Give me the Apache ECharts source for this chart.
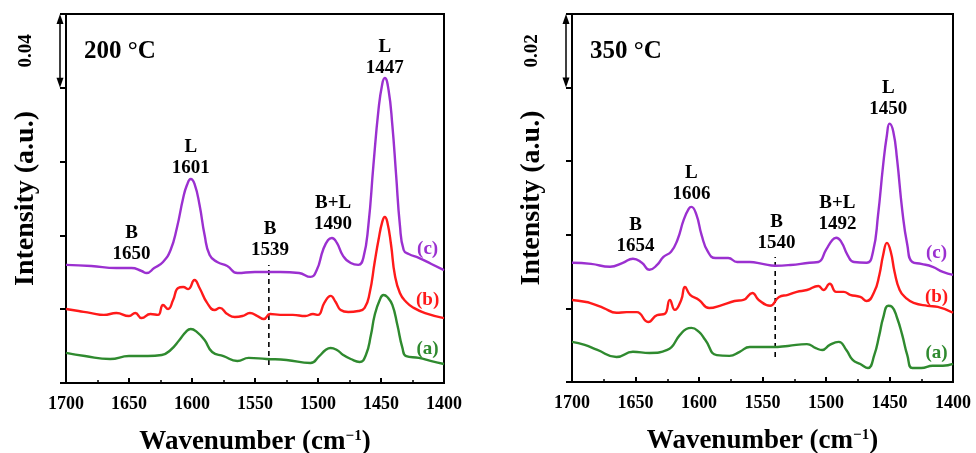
<!DOCTYPE html>
<html>
<head>
<meta charset="utf-8">
<script src="https://cdn.jsdelivr.net/npm/echarts@6/dist/echarts.min.js"></script>
<style>
  html, body { margin: 0; padding: 0; background: #fff; }
  #chart { width: 976px; height: 453px; }
</style>
</head>
<body>
<div id="chart"></div>
<script>
// ---- Pyridine-IR spectra, desorption at 200 °C and 350 °C ----
// wavenumber (cm-1), absorbance

// 200 °C panel
const spec200c = [[1700,0.0640],[1680,0.0634],[1660,0.0623],[1648,0.0623],[1640,0.0607],[1636,0.0596],[1630,0.0623],[1623,0.0656],[1617,0.0721],[1612,0.0840],[1607,0.1003],[1604,0.1073],[1601,0.1106],[1598,0.1079],[1594,0.0965],[1590,0.0802],[1586,0.0694],[1580,0.0656],[1572,0.0634],[1564,0.0596],[1550,0.0602],[1530,0.0602],[1515,0.0596],[1506,0.0575],[1501,0.0612],[1496,0.0721],[1492,0.0775],[1489,0.0786],[1485,0.0759],[1480,0.0688],[1474,0.0650],[1468,0.0640],[1464,0.0678],[1460,0.0856],[1456,0.1182],[1452,0.1480],[1449,0.1621],[1447,0.1653],[1444,0.1588],[1441,0.1398],[1438,0.1127],[1435,0.0856],[1432,0.0721],[1428,0.0699],[1420,0.0678],[1410,0.0645],[1400,0.0612]];
const spec200b = [[1700,0.0401],[1690,0.0390],[1680,0.0379],[1670,0.0369],[1660,0.0379],[1650,0.0363],[1645,0.0379],[1640,0.0352],[1633,0.0374],[1627,0.0369],[1623,0.0423],[1619,0.0401],[1615,0.0450],[1611,0.0515],[1607,0.0520],[1603,0.0509],[1598,0.0558],[1594,0.0515],[1588,0.0434],[1582,0.0396],[1578,0.0407],[1572,0.0374],[1566,0.0358],[1560,0.0363],[1554,0.0379],[1548,0.0363],[1543,0.0347],[1538,0.0374],[1530,0.0369],[1520,0.0369],[1510,0.0363],[1504,0.0374],[1500,0.0369],[1495,0.0434],[1490,0.0472],[1486,0.0439],[1482,0.0396],[1476,0.0385],[1468,0.0390],[1463,0.0407],[1459,0.0488],[1455,0.0656],[1452,0.0775],[1449,0.0873],[1447,0.0900],[1445,0.0873],[1442,0.0748],[1439,0.0585],[1435,0.0488],[1430,0.0439],[1424,0.0407],[1415,0.0379],[1400,0.0352]];
const spec200a = [[1700,0.0163],[1685,0.0146],[1665,0.0130],[1650,0.0146],[1635,0.0146],[1624,0.0152],[1617,0.0179],[1610,0.0233],[1605,0.0276],[1601,0.0293],[1596,0.0276],[1590,0.0233],[1584,0.0168],[1575,0.0146],[1564,0.0119],[1555,0.0136],[1541,0.0130],[1525,0.0125],[1506,0.0108],[1499,0.0146],[1494,0.0179],[1490,0.0190],[1485,0.0179],[1480,0.0152],[1474,0.0130],[1467,0.0114],[1462,0.0152],[1458,0.0260],[1455,0.0369],[1451,0.0450],[1448,0.0477],[1445,0.0466],[1441,0.0423],[1437,0.0314],[1433,0.0190],[1430,0.0146],[1420,0.0136],[1410,0.0119],[1400,0.0103]];

// 350 °C panel
const spec350c = [[1700,0.0324],[1685,0.0321],[1670,0.0313],[1660,0.0324],[1652,0.0335],[1645,0.0324],[1639,0.0305],[1633,0.0318],[1628,0.0340],[1622,0.0354],[1617,0.0386],[1612,0.0441],[1608,0.0471],[1606,0.0476],[1602,0.0454],[1598,0.0400],[1593,0.0354],[1587,0.0337],[1577,0.0337],[1570,0.0326],[1560,0.0326],[1550,0.0321],[1540,0.0316],[1528,0.0318],[1513,0.0324],[1506,0.0326],[1500,0.0359],[1495,0.0386],[1492,0.0392],[1488,0.0381],[1483,0.0345],[1478,0.0326],[1468,0.0324],[1463,0.0354],[1459,0.0454],[1455,0.0590],[1452,0.0672],[1450,0.0702],[1447,0.0680],[1444,0.0604],[1440,0.0468],[1436,0.0373],[1432,0.0326],[1425,0.0321],[1416,0.0313],[1408,0.0299],[1400,0.0291]];
const spec350b = [[1700,0.0223],[1690,0.0218],[1686,0.0215],[1675,0.0201],[1665,0.0188],[1657,0.0190],[1649,0.0190],[1640,0.0163],[1633,0.0182],[1627,0.0185],[1623,0.0223],[1619,0.0196],[1614,0.0223],[1611,0.0258],[1607,0.0237],[1600,0.0223],[1592,0.0201],[1582,0.0209],[1572,0.0220],[1565,0.0223],[1558,0.0242],[1553,0.0223],[1544,0.0207],[1537,0.0231],[1530,0.0237],[1523,0.0245],[1515,0.0250],[1506,0.0261],[1502,0.0250],[1497,0.0267],[1492,0.0245],[1486,0.0245],[1481,0.0237],[1473,0.0231],[1468,0.0220],[1462,0.0245],[1458,0.0291],[1455,0.0345],[1452,0.0378],[1449,0.0354],[1446,0.0299],[1442,0.0250],[1437,0.0228],[1431,0.0215],[1420,0.0207],[1412,0.0204],[1400,0.0188]];
const spec350a = [[1700,0.0109],[1690,0.0101],[1680,0.0087],[1665,0.0068],[1652,0.0082],[1639,0.0079],[1625,0.0087],[1615,0.0128],[1610,0.0144],[1606,0.0147],[1600,0.0136],[1595,0.0114],[1586,0.0073],[1576,0.0071],[1568,0.0082],[1560,0.0095],[1542,0.0095],[1530,0.0098],[1515,0.0103],[1508,0.0092],[1503,0.0087],[1497,0.0101],[1490,0.0109],[1484,0.0087],[1479,0.0060],[1473,0.0049],[1467,0.0038],[1462,0.0073],[1458,0.0128],[1455,0.0174],[1451,0.0207],[1448,0.0204],[1444,0.0174],[1440,0.0128],[1436,0.0073],[1432,0.0038],[1425,0.0038],[1416,0.0044],[1408,0.0044],[1400,0.0049]];

// Brønsted / Lewis band assignments: [wavenumber, label height, text]
const bands200 = [[1648,0.0756,'B\n1650'],[1601,0.1222,'L\n1601'],[1538,0.0778,'B\n1539'],[1488,0.0919,'B+L\n1490'],[1447,0.1764,'L\n1447']];
const bands350 = [[1650,0.0398,'B\n1654'],[1606,0.0539,'L\n1606'],[1539,0.0407,'B\n1540'],[1491,0.0457,'B+L\n1492'],[1451,0.0770,'L\n1450']];

// marker of the 1539/1540 band
const mark200 = [[1539,0.0098],[1539,0.0640]];
const mark350 = [[1540,0.0068],[1540,0.0340]];

// curve tags placed at the right end
const tags200 = [[1413,0.0726,'(c)'],[1413,0.0450,'(b)'],[1413,0.0184,'(a)']];
const tags350 = [[1413,0.0351,'(c)'],[1413,0.0231,'(b)'],[1413,0.0079,'(a)']];

const xTicks = { min: 1400, max: 1700, interval: 50 };
const scale200 = { max: 0.20, interval: 0.04, bar: '0.04' };
const scale350 = { max: 0.10, interval: 0.02, bar: '0.02' };

const SERIF = '"Liberation Serif", "Times New Roman", serif';
const COLORS = { c: '#9b30d0', b: '#ff1a1a', a: '#2f8a2f' };

const chart = echarts.init(document.getElementById('chart'), null, { renderer: 'canvas' });

function xAxisFor(i) {
  return {
    gridIndex: i, type: 'value', inverse: true,
    min: xTicks.min, max: xTicks.max, interval: xTicks.interval,
    axisLine: { show: true, onZero: false, lineStyle: { color: '#000', width: 2 } },
    axisTick: { show: true, inside: true, length: 5, lineStyle: { color: '#000', width: 2 } },
    minorTick: { show: true, splitNumber: 2, length: 3, lineStyle: { color: '#000', width: 1.5 } },
    splitLine: { show: false },
    axisLabel: { color: '#000', fontFamily: SERIF, fontWeight: 'bold', fontSize: 18, margin: 12,
                 showMinLabel: true, showMaxLabel: true, formatter: v => String(v) },
    name: 'Wavenumber (cm{sup|−1})',
    nameLocation: 'middle', nameGap: 46,
    nameTextStyle: { color: '#000', fontFamily: SERIF, fontWeight: 'bold', fontSize: 27,
      rich: { sup: { fontFamily: SERIF, fontWeight: 'bold', fontSize: 15, verticalAlign: 'top', lineHeight: 26, padding: [0, 0, 10, 0] } } }
  };
}
function yAxisFor(i, sc) {
  return {
    gridIndex: i, type: 'value', min: 0, max: sc.max, interval: sc.interval,
    axisLine: { show: true, onZero: false, lineStyle: { color: '#000', width: 2 } },
    axisTick: { show: true, inside: false, length: 6, lineStyle: { color: '#000', width: 2 } },
    splitLine: { show: false },
    axisLabel: { show: false },
    name: 'Intensity (a.u.)', nameLocation: 'middle', nameGap: 26,
    nameTextStyle: { color: '#000', fontFamily: SERIF, fontWeight: 'bold', fontSize: 28 }
  };
}
function curve(i, data, color) {
  return {
    type: 'line', xAxisIndex: i, yAxisIndex: i, data: data,
    showSymbol: false, smooth: 0.5,
    lineStyle: { color: color, width: 2.4 }, itemStyle: { color: color },
    silent: true, z: 3
  };
}
function dashed(i, data) {
  return {
    type: 'line', xAxisIndex: i, yAxisIndex: i, data: data, showSymbol: false,
    lineStyle: { color: '#000', width: 1.6, type: [5, 4] }, silent: true, z: 2
  };
}
function textSeries(i, data, colorOf) {
  return {
    type: 'scatter', xAxisIndex: i, yAxisIndex: i, symbolSize: 1, silent: true, z: 5,
    itemStyle: { color: 'rgba(0,0,0,0)', opacity: 1 },
    data: data.map(d => ({
      value: [d[0], d[1]],
      label: {
        show: true, position: 'inside', formatter: d[2], opacity: 1,
        color: colorOf ? colorOf(d[2]) : '#000', textBorderWidth: 0,
        fontFamily: SERIF, fontWeight: 'bold', fontSize: 19, lineHeight: 21, align: 'center', verticalAlign: 'middle'
      }
    }))
  };
}
const tagColor = t => COLORS[t.replace(/[()]/g, '')];

const gridBase = { show: true, borderColor: '#000', borderWidth: 2, backgroundColor: 'transparent',
                   containLabel: false, outerBoundsMode: 'none' };

chart.setOption({
  animation: false,
  backgroundColor: '#fff',
  grid: [
    Object.assign({ left: 66, top: 14, width: 378, height: 369 }, gridBase),
    Object.assign({ left: 572, top: 14, width: 381, height: 368 }, gridBase)
  ],
  xAxis: [xAxisFor(0), xAxisFor(1)],
  yAxis: [yAxisFor(0, scale200), yAxisFor(1, scale350)],
  series: [
    curve(0, spec200c, COLORS.c), curve(0, spec200b, COLORS.b), curve(0, spec200a, COLORS.a),
    dashed(0, mark200), textSeries(0, bands200), textSeries(0, tags200, tagColor),
    curve(1, spec350c, COLORS.c), curve(1, spec350b, COLORS.b), curve(1, spec350a, COLORS.a),
    dashed(1, mark350), textSeries(1, bands350), textSeries(1, tags350, tagColor)
  ]
});

// scale bars (double arrows spanning one tick interval) and panel titles
const graphics = [];
[[0, scale200, '200 °C'], [1, scale350, '350 °C']].forEach(([gi, sc, title]) => {
  const top = chart.convertToPixel({ gridIndex: gi }, [xTicks.max, sc.max]);
  const bot = chart.convertToPixel({ gridIndex: gi }, [xTicks.max, sc.max - sc.interval]);
  const x = top[0] - 6;
  const y1 = top[1], y2 = bot[1];
  graphics.push(
    { type: 'line', shape: { x1: x, y1: y1 + 4, x2: x, y2: y2 - 4 }, style: { stroke: '#000', lineWidth: 1.5 }, silent: true },
    { type: 'polygon', shape: { points: [[x, y1], [x - 3.5, y1 + 10], [x + 3.5, y1 + 10]] }, style: { fill: '#000' }, silent: true },
    { type: 'polygon', shape: { points: [[x, y2], [x - 3.5, y2 - 10], [x + 3.5, y2 - 10]] }, style: { fill: '#000' }, silent: true },
    { type: 'text', x: x - 34, y: (y1 + y2) / 2, rotation: Math.PI / 2,
      style: { text: sc.bar, fill: '#000', font: 'bold 19px ' + SERIF, align: 'center', verticalAlign: 'middle' }, silent: true },
    { type: 'text', x: top[0] + 18, y: y1 + 38,
      style: { text: title, fill: '#000', font: 'bold 25px ' + SERIF, align: 'left', verticalAlign: 'middle' }, silent: true }
  );
});
chart.setOption({ graphic: graphics });
</script>
</body>
</html>
